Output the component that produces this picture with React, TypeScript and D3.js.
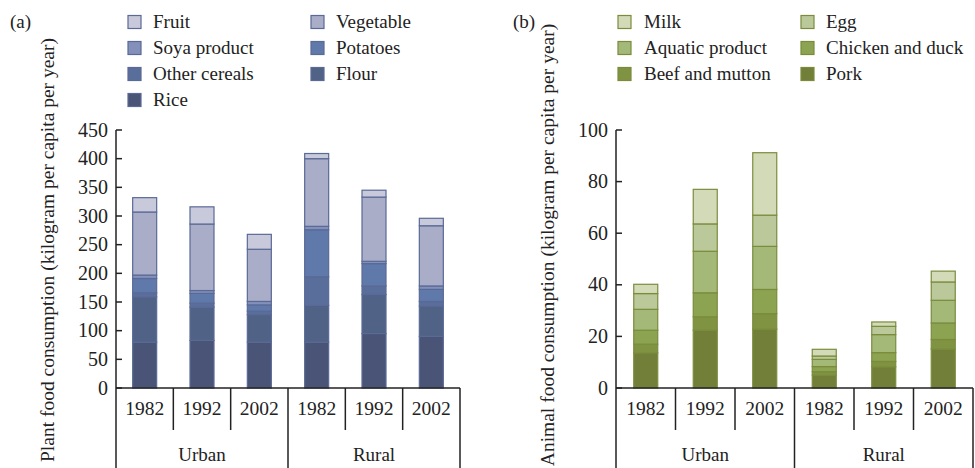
import React from "react";
import * as d3 from "d3";

const categories = ["Urban 1982", "Urban 1992", "Urban 2002", "Rural 1982", "Rural 1992", "Rural 2002"];
const yearLabels = ["1982", "1992", "2002", "1982", "1992", "2002"];
const groupLabels = ["Urban", "Rural"];

// Plant food (bottom to top)
const plantKeys = ["Rice", "Flour", "Other cereals", "Potatoes", "Soya product", "Vegetable", "Fruit"];
const rice = [80, 83, 80, 80, 95, 90];
const flour = [79, 58, 48, 64, 68, 53];
const otherCereals = [7, 7, 6, 50, 15, 8];
const potatoes = [25, 17, 11, 82, 39, 21];
const soya = [6, 5, 6, 6, 4, 6];
const vegetable = [110, 116, 91, 118, 112, 105];
const fruit = [25, 30, 26, 9, 12, 13];
const plantTicks = [0, 50, 100, 150, 200, 250, 300, 350, 400, 450];

// Animal food (bottom to top)
const animalKeys = ["Pork", "Beef and mutton", "Chicken and duck", "Aquatic product", "Egg", "Milk"];
const pork = [13.6, 22.4, 22.8, 5, 8.2, 15.1];
const beef = [3.4, 5.2, 6, 1.3, 2.1, 3.7];
const chicken = [5.4, 9.3, 9.4, 2, 3.4, 6.4];
const aquatic = [8.1, 16.1, 16.7, 2.8, 7, 8.8];
const egg = [6.1, 10.6, 12.1, 1.3, 3.2, 7.1];
const milk = [3.6, 13.4, 24.2, 2.6, 1.7, 4.2];
const animalTicks = [0, 20, 40, 60, 80, 100];

const plantColors: Record<string, string> = {
  Rice: "#4a5476",
  Flour: "#506285",
  "Other cereals": "#5a6e9c",
  Potatoes: "#5f79aa",
  "Soya product": "#8290ba",
  Vegetable: "#a9adc8",
  Fruit: "#c8cadc",
};
const animalColors: Record<string, string> = {
  Pork: "#717f38",
  "Beef and mutton": "#7f9343",
  "Chicken and duck": "#8ca351",
  "Aquatic product": "#a4b878",
  Egg: "#bbc99a",
  Milk: "#d3dab7",
};

const FONT = "Liberation Serif, Times New Roman, DejaVu Serif, serif";
const FS = 19;

type PanelProps = {
  label: string;
  title: string;
  keys: string[];
  series: number[][];
  colors: Record<string, string>;
  stroke: string;
  ticks: number[];
  maxY: number;
  axisX0: number;
  axisX1: number;
  titleX: number;
  titleY: number;
  labelX: number;
  legendCols: { swatchX: number; textX: number }[];
  legendOrder: string[];
};

function Panel(p: PanelProps) {
  const y0 = 388;
  const yTop = 130;
  const y = d3.scaleLinear().domain([0, p.maxY]).range([y0, yTop]);
  const x = d3.scaleBand().domain(categories).range([p.axisX0, p.axisX1]).padding(0);
  const barW = 24;
  const rows = categories.map((c, i) => {
    const r: any = { cat: c };
    p.keys.forEach((k, j) => (r[k] = p.series[j][i]));
    return r;
  });
  const stacked = d3.stack<any>().keys(p.keys)(rows);
  const rowYs = [22, 48, 74, 100];
  const sepBottomShort = 430;
  const sepBottomLong = 470;
  return (
    <g style={{ fontFamily: FONT, fontSize: FS }} fill="#222">
      <text x={p.labelX} y={28}>{p.label}</text>
      <text
        transform={`translate(${p.titleX},${p.titleY}) rotate(-90)`}
        textAnchor="middle"
        y={6}
        style={{ fontSize: 19.5 }}
      >
        {p.title}
      </text>
      {p.legendOrder.map((k, i) => {
        const col = p.legendCols[i % 2];
        const row = Math.floor(i / 2);
        const cy = rowYs[row];
        return (
          <g key={k}>
            <rect x={col.swatchX} y={cy - 6.5} width={13} height={13} fill={p.colors[k]} stroke={p.stroke} strokeWidth={1.2} />
            <text x={col.textX} y={cy + 6}>{k}</text>
          </g>
        );
      })}
      {stacked.map((s) => (
        <g key={s.key}>
          {s.map((d, i) => (
            <rect
              key={i}
              x={(x(categories[i]) as number) + x.bandwidth() / 2 - barW / 2}
              y={y(d[1])}
              width={barW}
              height={Math.max(0, y(d[0]) - y(d[1]))}
              fill={p.colors[s.key]}
              stroke={p.stroke}
              strokeWidth={1.2}
            />
          ))}
        </g>
      ))}
      {/* y axis */}
      <line x1={p.axisX0} x2={p.axisX0} y1={yTop} y2={y0} stroke="#222" strokeWidth={1.5} />
      {p.ticks.map((t) => (
        <g key={t}>
          <line x1={p.axisX0} x2={p.axisX0 + 6} y1={y(t)} y2={y(t)} stroke="#222" strokeWidth={1.5} />
          <text x={p.axisX0 - 8} y={y(t) + 6.5} textAnchor="end" style={{ fontSize: 20 }}>{t}</text>
        </g>
      ))}
      {/* x axis */}
      <line x1={p.axisX0} x2={p.axisX1} y1={y0} y2={y0} stroke="#222" strokeWidth={1.5} />
      {categories.map((c, i) => {
        const xl = x(c) as number;
        return (
          <text key={c} x={xl + x.bandwidth() / 2} y={415} textAnchor="middle" style={{ fontSize: 19.5 }}>{yearLabels[i]}</text>
        );
      })}
      {d3.range(categories.length + 1).map((i) => {
        const xx = i < categories.length ? (x(categories[i]) as number) : p.axisX1;
        const long = i % 3 === 0;
        return (
          <line key={i} x1={xx} x2={xx} y1={y0} y2={long ? sepBottomLong : sepBottomShort} stroke="#222" strokeWidth={1.5} />
        );
      })}
      {groupLabels.map((g, gi) => {
        const a = x(categories[gi * 3]) as number;
        const b = gi === 1 ? p.axisX1 : (x(categories[3]) as number);
        return (
          <text key={g} x={(a + b) / 2} y={461} textAnchor="middle">{g}</text>
        );
      })}
    </g>
  );
}

export default function App() {
  return (
    <svg width={975} height={468} style={{ position: "absolute", left: 0, top: 0, background: "#fff" }}>
      <rect width={975} height={468} fill="#fff" />
      <Panel
        label="(a)"
        title="Plant food consumption (kilogram per capita per year)"
        keys={plantKeys}
        series={[rice, flour, otherCereals, potatoes, soya, vegetable, fruit]}
        colors={plantColors}
        stroke="#5a6a96"
        ticks={plantTicks}
        maxY={450}
        axisX0={116}
        axisX1={460}
        titleX={48}
        titleY={250}
        labelX={10}
        legendCols={[{ swatchX: 128, textX: 153 }, { swatchX: 311, textX: 336 }]}
        legendOrder={["Fruit", "Vegetable", "Soya product", "Potatoes", "Other cereals", "Flour", "Rice"]}
      />
      <Panel
        label="(b)"
        title="Animal food consumption (kilogram per capita per year)"
        keys={animalKeys}
        series={[pork, beef, chicken, aquatic, egg, milk]}
        colors={animalColors}
        stroke="#7a8c3c"
        ticks={animalTicks}
        maxY={100}
        axisX0={616}
        axisX1={973}
        titleX={548}
        titleY={245}
        labelX={513}
        legendCols={[{ swatchX: 618, textX: 644 }, { swatchX: 801, textX: 826 }]}
        legendOrder={["Milk", "Egg", "Aquatic product", "Chicken and duck", "Beef and mutton", "Pork"]}
      />
    </svg>
  );
}
